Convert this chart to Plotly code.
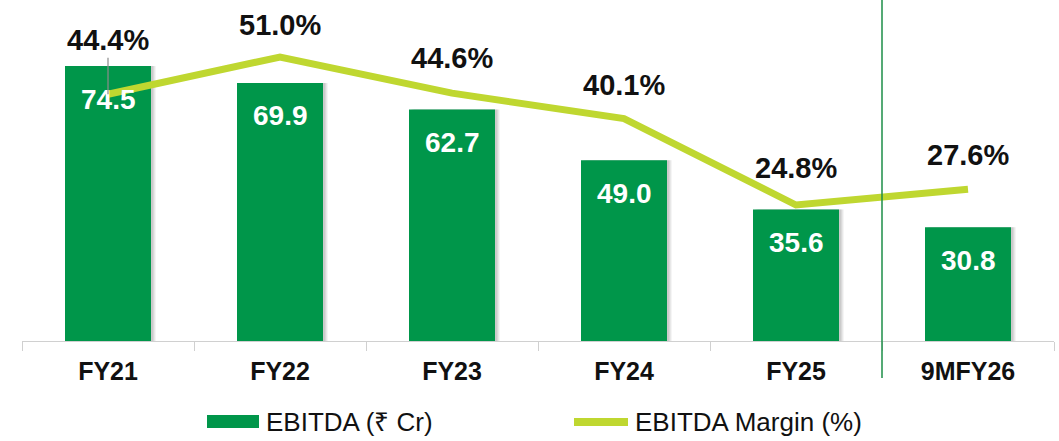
import plotly.graph_objects as go

categories = ["FY21", "FY22", "FY23", "FY24", "FY25", "9MFY26"]
ebitda = [74.5, 69.9, 62.7, 49.0, 35.6, 30.8]
margin = [44.4, 51.0, 44.6, 40.1, 24.8, 27.6]
bar_labels = ["74.5", "69.9", "62.7", "49.0", "35.6", "30.8"]
margin_labels = ["44.4%", "51.0%", "44.6%", "40.1%", "24.8%", "27.6%"]
legend_names = ["EBITDA (₹ Cr)", "EBITDA Margin (%)"]

BAR_COLOR = "#00964A"
LINE_COLOR = "#BFD730"
FONT = "Liberation Sans, Arial, sans-serif"

W, H = 1059, 441
ML, MR, MT, MB = 22, 5, 0, 100
PW = W - ML - MR
PH = H - MT - MB
CAT_PX = PW / 6.0


def px_x(px):
    return (px - ML) / PW


def px_y(py):
    return (H - MB - py) / PH


fig = go.Figure()
# soft shadow behind the bars
for k, alpha in enumerate([0.10, 0.10, 0.08, 0.06]):
    fig.add_trace(go.Bar(
        x=categories, y=ebitda, marker=dict(color=f"rgba(90,90,90,{alpha})", line=dict(width=0)),
        width=0.5, offset=-0.25 + (2 + k) / CAT_PX, yaxis="y",
        showlegend=False, hoverinfo="skip",
    ))
fig.add_trace(go.Bar(
    x=categories, y=ebitda, name=legend_names[0],
    marker=dict(color=BAR_COLOR, line=dict(width=0)),
    width=0.5, offset=-0.25, yaxis="y", showlegend=False,
))
fig.add_trace(go.Scatter(
    x=categories, y=margin, name=legend_names[1], mode="lines",
    line=dict(color=LINE_COLOR, width=7), yaxis="y2", showlegend=False,
))

annotations = []
for c, v, t in zip(categories, ebitda, bar_labels):
    annotations.append(dict(
        x=c, y=v, xref="x", yref="y", text=t, showarrow=False,
        yanchor="middle", yshift=-33,
        font=dict(family=FONT, size=28, color="white", weight="bold"),
    ))

shifts = [54, 32, 35, 34, 37, 34]
for i, (c, v, t) in enumerate(zip(categories, margin, margin_labels)):
    if i == 0:
        annotations.append(dict(
            x=c, y=v, xref="x", yref="y2", text=t, showarrow=True,
            ax=0, ay=-shifts[i], arrowhead=0, arrowwidth=1.2,
            arrowcolor="#8c8c8c", standoff=0,
            font=dict(family=FONT, size=29, color="#111111", weight="bold"),
        ))
    else:
        annotations.append(dict(
            x=c, y=v, xref="x", yref="y2", text=t, showarrow=False,
            yanchor="middle", yshift=shifts[i],
            font=dict(family=FONT, size=29, color="#111111", weight="bold"),
        ))

# legend (manual)
annotations.append(dict(
    x=px_x(264), y=px_y(422), xref="paper", yref="paper", text=legend_names[0],
    showarrow=False, xanchor="left", yanchor="middle",
    font=dict(family=FONT, size=26, color="#111111"),
))
annotations.append(dict(
    x=px_x(633), y=px_y(422), xref="paper", yref="paper", text=legend_names[1],
    showarrow=False, xanchor="left", yanchor="middle",
    font=dict(family=FONT, size=26, color="#111111"),
))

shapes = [
    dict(type="rect", xref="paper", yref="paper",
         x0=px_x(207), x1=px_x(259), y0=px_y(428), y1=px_y(415),
         fillcolor=BAR_COLOR, line=dict(width=0)),
    dict(type="line", xref="paper", yref="paper",
         x0=px_x(574), x1=px_x(628), y0=px_y(422), y1=px_y(422),
         line=dict(color=LINE_COLOR, width=8)),
    dict(type="line", xref="x", yref="paper",
         x0=4.5, x1=4.5, y0=px_y(378), y1=px_y(0),
         line=dict(color="#1C8E47", width=1.5)),
]

bar_scale = 275.0 / 74.5
y_top = PH / bar_scale
m_scale = 5.65
y2_bottom = 51.0 - (PH - 57) / m_scale
y2_top = 51.0 + 57 / m_scale

fig.update_layout(
    width=W, height=H,
    margin=dict(l=ML, r=MR, t=MT, b=MB, pad=0),
    paper_bgcolor="white", plot_bgcolor="white",
    barmode="overlay",
    xaxis=dict(
        type="category", showline=True, linecolor="#D0D0D0", linewidth=1,
        ticks="outside", tickson="boundaries", ticklen=9, tickcolor="#D0D0D0",
        tickfont=dict(family=FONT, size=25, color="#111111", weight="bold"),
        ticklabelstandoff=8, showgrid=False, zeroline=False,
        range=[-0.5, 5.5],
    ),
    yaxis=dict(range=[0, y_top], visible=False, showgrid=False, zeroline=False),
    yaxis2=dict(range=[y2_bottom, y2_top], overlaying="y", visible=False,
                showgrid=False, zeroline=False),
    annotations=annotations,
    shapes=shapes,
    showlegend=False,
)

fig.write_html(
    "out.html",
    config={"displayModeBar": False},
    post_script="document.body.style.margin='0';document.body.style.padding='0';",
)
